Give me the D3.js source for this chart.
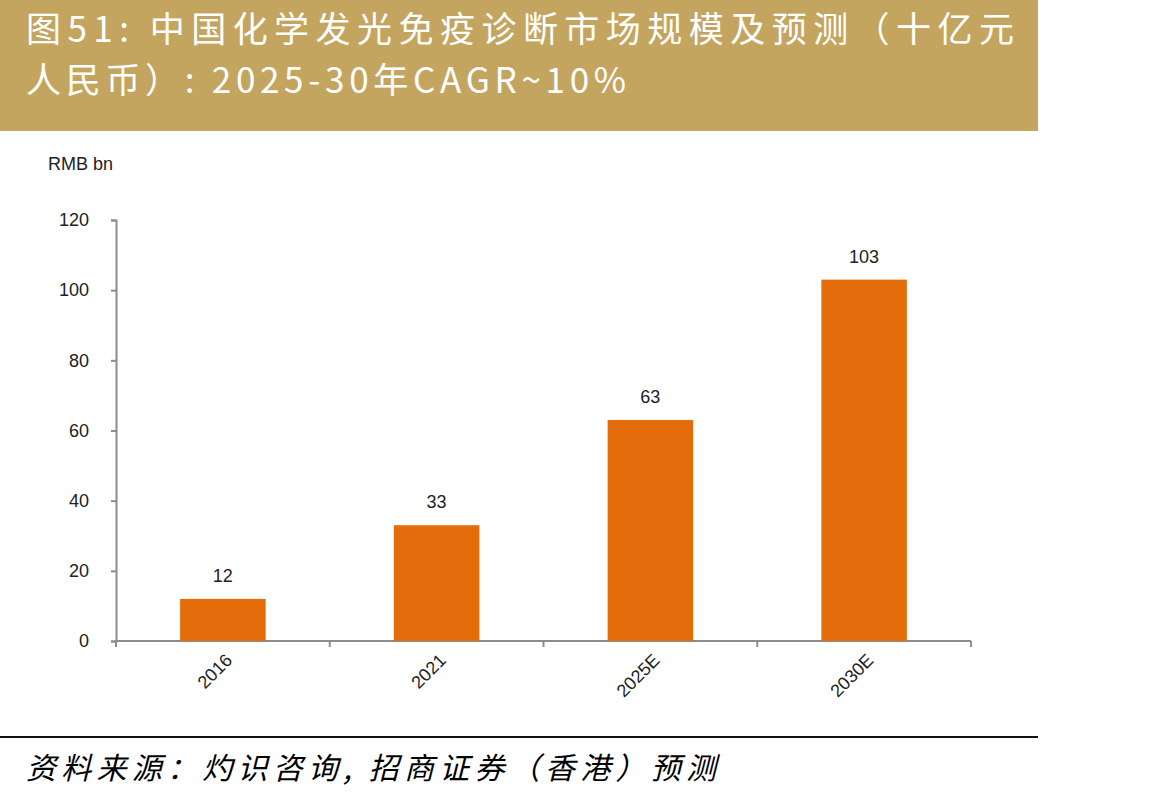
<!DOCTYPE html>
<html>
<head>
<meta charset="utf-8">
<script src="https://cdn.jsdelivr.net/npm/d3@7"></script>
<style>
  body { margin: 0; background: #fff; }
  svg { display: block; }
</style>
</head>
<body>
<script>
// data
var categories = ["2016", "2021", "2025E", "2030E"];
var values = [12, 33, 63, 103];
var yTicks = [0, 20, 40, 60, 80, 100, 120];

var titleLines = ["图51: 中国化学发光免疫诊断市场规模及预测（十亿元", "人民币）: 2025-30年CAGR~10%"];
var unitLabel = "RMB bn";
var sourceText = "资料来源：灼识咨询, 招商证券（香港）预测";

var W = 1172, H = 799;
var plotLeft = 116, plotRight = 971, plotTop = 220, plotBottom = 641;

var svg = d3.select("body").append("svg")
  .attr("width", W)
  .attr("height", H);

// header band
svg.append("rect")
  .attr("x", 0).attr("y", 0)
  .attr("width", 1038).attr("height", 131)
  .attr("fill", "#c4a55f");

svg.selectAll(".title")
  .data(titleLines)
  .join("text")
  .attr("class", "title")
  .attr("x", 26)
  .attr("y", (d, i) => 42 + i * 51)
  .attr("fill", "#fff")
  .attr("textLength", (d, i) => i == 0 ? 988 : 600)
  .attr("lengthAdjust", "spacing")
  .style("font-family", "'Noto Sans CJK SC', 'Liberation Sans', sans-serif")
  .style("font-size", "35px")
  .text(d => d);

var x = d3.scaleBand()
  .domain(categories)
  .range([plotLeft, plotRight])
  .paddingInner(0.6)
  .paddingOuter(0.3);

var y = d3.scaleLinear()
  .domain([0, 120])
  .range([plotBottom, plotTop]);

var axisColor = "#8c8c8c";
var labelFont = "'Liberation Sans', Arial, sans-serif";

// y axis
var yAxis = svg.append("g")
  .attr("transform", `translate(${plotLeft},0)`)
  .call(d3.axisLeft(y).tickValues(yTicks).tickSize(5).tickPadding(22));
yAxis.select(".domain").attr("stroke", axisColor).attr("stroke-width", 2);
yAxis.selectAll(".tick line").attr("stroke", axisColor).attr("stroke-width", 2);
yAxis.selectAll(".tick text")
  .attr("fill", "#222")
  .style("font-family", labelFont)
  .style("font-size", "18px");

// x axis with ticks on band boundaries
var bounds = categories.map(c => x(c) - x.step() * x.paddingInner() / 2);
bounds.push(plotRight);
var xAxisG = svg.append("g");
xAxisG.append("line")
  .attr("x1", plotLeft).attr("x2", plotRight)
  .attr("y1", plotBottom).attr("y2", plotBottom)
  .attr("stroke", axisColor).attr("stroke-width", 2);
xAxisG.selectAll(".xt")
  .data(bounds)
  .join("line")
  .attr("class", "xt")
  .attr("x1", d => d).attr("x2", d => d)
  .attr("y1", plotBottom).attr("y2", plotBottom + 6)
  .attr("stroke", axisColor).attr("stroke-width", 2);

xAxisG.selectAll(".xl")
  .data(categories)
  .join("text")
  .attr("class", "xl")
  .attr("transform", d => `translate(${x(d) + x.bandwidth() / 2 + 6},${plotBottom + 16}) rotate(-45)`)
  .attr("text-anchor", "end")
  .attr("dy", "0.35em")
  .attr("fill", "#222")
  .style("font-family", labelFont)
  .style("font-size", "18px")
  .text(d => d);

// bars
svg.selectAll(".bar")
  .data(values)
  .join("rect")
  .attr("class", "bar")
  .attr("x", (d, i) => x(categories[i]))
  .attr("y", d => y(d))
  .attr("width", x.bandwidth())
  .attr("height", d => plotBottom - y(d))
  .attr("fill", "#e46c0a");

svg.selectAll(".val")
  .data(values)
  .join("text")
  .attr("class", "val")
  .attr("x", (d, i) => x(categories[i]) + x.bandwidth() / 2)
  .attr("y", d => y(d) - 17)
  .attr("text-anchor", "middle")
  .attr("fill", "#222")
  .style("font-family", labelFont)
  .style("font-size", "18px")
  .text(d => d);

svg.append("text")
  .attr("x", 48).attr("y", 170)
  .attr("fill", "#222")
  .style("font-family", labelFont)
  .style("font-size", "18px")
  .text(unitLabel);

// footer
svg.append("line")
  .attr("x1", 0).attr("x2", 1038)
  .attr("y1", 737).attr("y2", 737)
  .attr("stroke", "#111").attr("stroke-width", 2);

svg.append("text")
  .attr("x", 26).attr("y", 779)
  .attr("fill", "#000")
  .attr("textLength", 690)
  .attr("lengthAdjust", "spacing")
  .style("font-family", "'Noto Sans CJK SC', sans-serif")
  .style("font-size", "30px")
  .style("font-style", "italic")
  .text(sourceText);
</script>
</body>
</html>
